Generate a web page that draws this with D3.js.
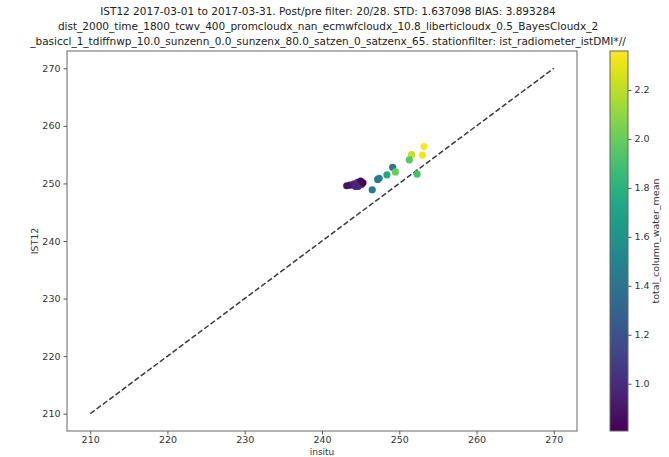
<!DOCTYPE html>
<html>
<head>
<meta charset="utf-8">
<script src="https://cdn.jsdelivr.net/npm/d3@7"></script>
<style>
  body { margin: 0; background: #fff; }
  svg { display: block; font-family: "DejaVu Sans", sans-serif; }
</style>
</head>
<body>
<svg id="chart" width="669" height="457"></svg>
<script>
// Title lines
const titleLines = [
  "IST12 2017-03-01 to 2017-03-31. Post/pre filter: 20/28. STD: 1.637098 BIAS: 3.893284",
  "dist_2000_time_1800_tcwv_400_promcloudx_nan_ecmwfcloudx_10.8_liberticloudx_0.5_BayesCloudx_2",
  "_basiccl_1_tdiffnwp_10.0_sunzenn_0.0_sunzenx_80.0_satzen_0_satzenx_65. stationfilter: ist_radiometer_istDMI*//"
];

// In-situ temperature, IST12 retrieval and total column water for each match-up
const insitu = [253.2, 251.6, 253.0, 251.3, 249.15, 249.5, 248.4, 247.4, 247.2, 252.3, 246.5,
                243.6, 244.1, 244.6, 245.0, 245.1, 244.7, 244.3, 245.3, 243.2];
const ist12  = [256.4, 255.0, 254.9, 254.1, 252.8, 252.0, 251.5, 250.9, 250.7, 251.6, 248.9,
                249.7, 249.9, 250.2, 250.4, 249.8, 249.5, 249.5, 250.1, 249.6];
const tcwv   = [2.359, 2.22, 2.33, 1.95, 1.42, 2.0, 1.75, 1.55, 1.45, 1.9, 1.45,
                0.9, 0.95, 1.0, 0.85, 0.92, 1.02, 0.96, 0.807, 0.88];

const axisTicks = [210, 220, 230, 240, 250, 260, 270];
const colorTicks = [1.0, 1.2, 1.4, 1.6, 1.8, 2.0, 2.2];
const identityLine = [210, 270];

const svg = d3.select("#chart");
const plot = { left: 67, right: 577, top: 51, bottom: 431 };
const bar = { left: 610, right: 628 };

const x = d3.scaleLinear().domain([207, 273]).range([plot.left, plot.right]);
const y = d3.scaleLinear().domain([207, 273]).range([plot.bottom, plot.top]);
const cExtent = d3.extent(tcwv);
const color = d3.scaleSequential(d3.interpolateViridis).domain(cExtent);

// Title
svg.append("g").selectAll("text").data(titleLines).join("text")
  .attr("x", 328)
  .attr("y", (d, i) => 15 + i * 15)
  .attr("text-anchor", "middle")
  .attr("font-size", 10.5)
  .attr("fill", "#222")
  .text(d => d);

// Axes
const xAxis = svg.append("g")
  .attr("transform", `translate(0,${plot.bottom})`)
  .call(d3.axisBottom(x).tickValues(axisTicks).tickSize(3.5).tickPadding(1.5).tickSizeOuter(0));
const yAxis = svg.append("g")
  .attr("transform", `translate(${plot.left},0)`)
  .call(d3.axisLeft(y).tickValues(axisTicks).tickSize(3.5).tickPadding(3).tickSizeOuter(0));
[xAxis, yAxis].forEach(g => {
  g.select(".domain").remove();
  g.selectAll("line").attr("stroke", "#555");
  g.selectAll("text").attr("font-size", 9.5).attr("fill", "#333").attr("font-family", "DejaVu Sans");
});

// Frame
svg.append("rect")
  .attr("x", plot.left).attr("y", plot.top)
  .attr("width", plot.right - plot.left).attr("height", plot.bottom - plot.top)
  .attr("fill", "none").attr("stroke", "#666").attr("stroke-width", 1);

// Axis labels
svg.append("text")
  .attr("x", (plot.left + plot.right) / 2).attr("y", 455)
  .attr("text-anchor", "middle").attr("font-size", 9).attr("fill", "#333")
  .text("insitu");
svg.append("text")
  .attr("transform", `translate(38,${(plot.top + plot.bottom) / 2}) rotate(-90)`)
  .attr("text-anchor", "middle").attr("font-size", 9.5).attr("fill", "#333")
  .text("IST12");

// 1:1 line
svg.append("line")
  .attr("x1", x(identityLine[0])).attr("y1", y(identityLine[0]))
  .attr("x2", x(identityLine[1])).attr("y2", y(identityLine[1]))
  .attr("stroke", "#3a3a3a").attr("stroke-width", 1.5)
  .attr("stroke-dasharray", "5.5,2.4");

// Points
const pts = d3.range(insitu.length).map(i => ({ xv: insitu[i], yv: ist12[i], c: tcwv[i] }));
svg.append("g").selectAll("circle").data(pts).join("circle")
  .attr("cx", d => x(d.xv)).attr("cy", d => y(d.yv))
  .attr("r", 3.6)
  .attr("fill", d => color(d.c));

// Colorbar
const defs = svg.append("defs");
const grad = defs.append("linearGradient").attr("id", "viridisBar")
  .attr("x1", 0).attr("y1", 1).attr("x2", 0).attr("y2", 0);
d3.range(0, 1.0001, 0.05).forEach(t => {
  grad.append("stop").attr("offset", t).attr("stop-color", d3.interpolateViridis(t));
});
svg.append("rect")
  .attr("x", bar.left).attr("y", plot.top)
  .attr("width", bar.right - bar.left).attr("height", plot.bottom - plot.top)
  .attr("fill", "url(#viridisBar)").attr("stroke", "#666").attr("stroke-width", 1);

const cy = d3.scaleLinear().domain(cExtent).range([plot.bottom, plot.top]);
const cAxis = svg.append("g")
  .attr("transform", `translate(${bar.right},0)`)
  .call(d3.axisRight(cy).tickValues(colorTicks).tickFormat(d3.format(".1f")).tickSize(3.5).tickPadding(3).tickSizeOuter(0));
cAxis.select(".domain").remove();
cAxis.selectAll("line").attr("stroke", "#555");
cAxis.selectAll("text").attr("font-size", 9.5).attr("fill", "#333").attr("font-family", "DejaVu Sans");

svg.append("text")
  .attr("transform", `translate(659,${(plot.top + plot.bottom) / 2}) rotate(-90)`)
  .attr("text-anchor", "middle").attr("font-size", 9.5).attr("fill", "#333")
  .text("total_column_water_mean");
</script>
</body>
</html>
